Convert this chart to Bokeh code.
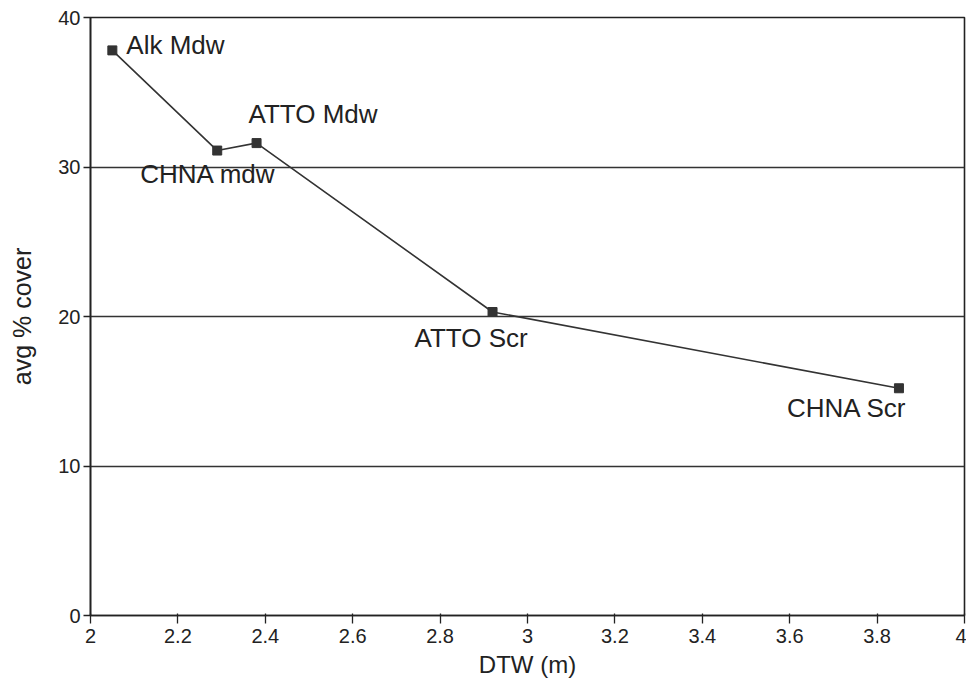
from bokeh.plotting import figure
from bokeh.models import ColumnDataSource, FixedTicker, Range1d
from bokeh.embed import file_html
from bokeh.resources import INLINE
from bokeh.core.properties import value

# data
sites = ["Alk Mdw", "CHNA mdw", "ATTO Mdw", "ATTO Scr", "CHNA Scr"]
dtw = [2.05, 2.29, 2.38, 2.92, 3.85]
cover = [37.8, 31.1, 31.6, 20.3, 15.2]
x_ticks = [2, 2.2, 2.4, 2.6, 2.8, 3, 3.2, 3.4, 3.6, 3.8, 4]
x_tick_labels = ["2", "2.2", "2.4", "2.6", "2.8", "3", "3.2", "3.4", "3.6", "3.8", "4"]
y_ticks = [0, 10, 20, 30, 40]

# label placement (pixels, styling)
lab_dx = [14, -77, -8, -78, -112]
lab_dy = [-5, 23, -29, 26, 20]

FONT = "Liberation Sans"

p = figure(width=966, height=680, output_backend="svg", toolbar_location=None,
           x_range=Range1d(2, 4), y_range=Range1d(0, 40),
           min_border_left=90, min_border_right=2, min_border_top=17, min_border_bottom=65)

p.outline_line_color = "#222222"
p.outline_line_width = 1.6
p.xgrid.visible = False
p.ygrid.ticker = FixedTicker(ticks=[10, 20, 30])
p.ygrid.grid_line_color = "#333333"
p.ygrid.grid_line_width = 1.3

src = ColumnDataSource(dict(x=dtw, y=cover, name=sites, dx=lab_dx, dy=lab_dy))
p.line("x", "y", source=src, line_color="#333333", line_width=1.6)
p.scatter("x", "y", source=src, marker="square", size=9, fill_color="#333333",
          line_color="#333333")
p.text("x", "y", text="name", source=src, x_offset="dx", y_offset="dy",
       text_font=value(FONT), text_font_size="26px", text_color="#222222",
       text_align="left", text_baseline="middle")

xa = p.xaxis[0]
xa.ticker = FixedTicker(ticks=x_ticks)
xa.major_label_overrides = {t: l for t, l in zip(x_ticks, x_tick_labels)}
xa.minor_tick_line_color = None
xa.major_tick_in = 2
xa.major_tick_out = 8
xa.major_label_standoff = 5
xa.axis_label = "DTW (m)"
xa.axis_label_standoff = 5
xa.axis_label_text_font_size = "24px"

ya = p.yaxis[0]
ya.ticker = FixedTicker(ticks=y_ticks)
ya.minor_tick_line_color = None
ya.major_tick_in = 0
ya.major_tick_out = 7
ya.major_label_standoff = 3
ya.axis_label = "avg % cover"
ya.axis_label_standoff = 19
ya.axis_label_text_font_size = "25px"

for ax in (xa, ya):
    ax.axis_line_color = "#222222"
    ax.axis_line_width = 1.6
    ax.major_tick_line_color = "#222222"
    ax.major_tick_line_width = 1.3
    ax.major_label_text_font = FONT
    ax.major_label_text_font_size = "20px"
    ax.major_label_text_color = "#222222"
    ax.axis_label_text_font = FONT
    ax.axis_label_text_font_style = "normal"
    ax.axis_label_text_color = "#222222"

open("out.html", "w").write(file_html(p, INLINE))
